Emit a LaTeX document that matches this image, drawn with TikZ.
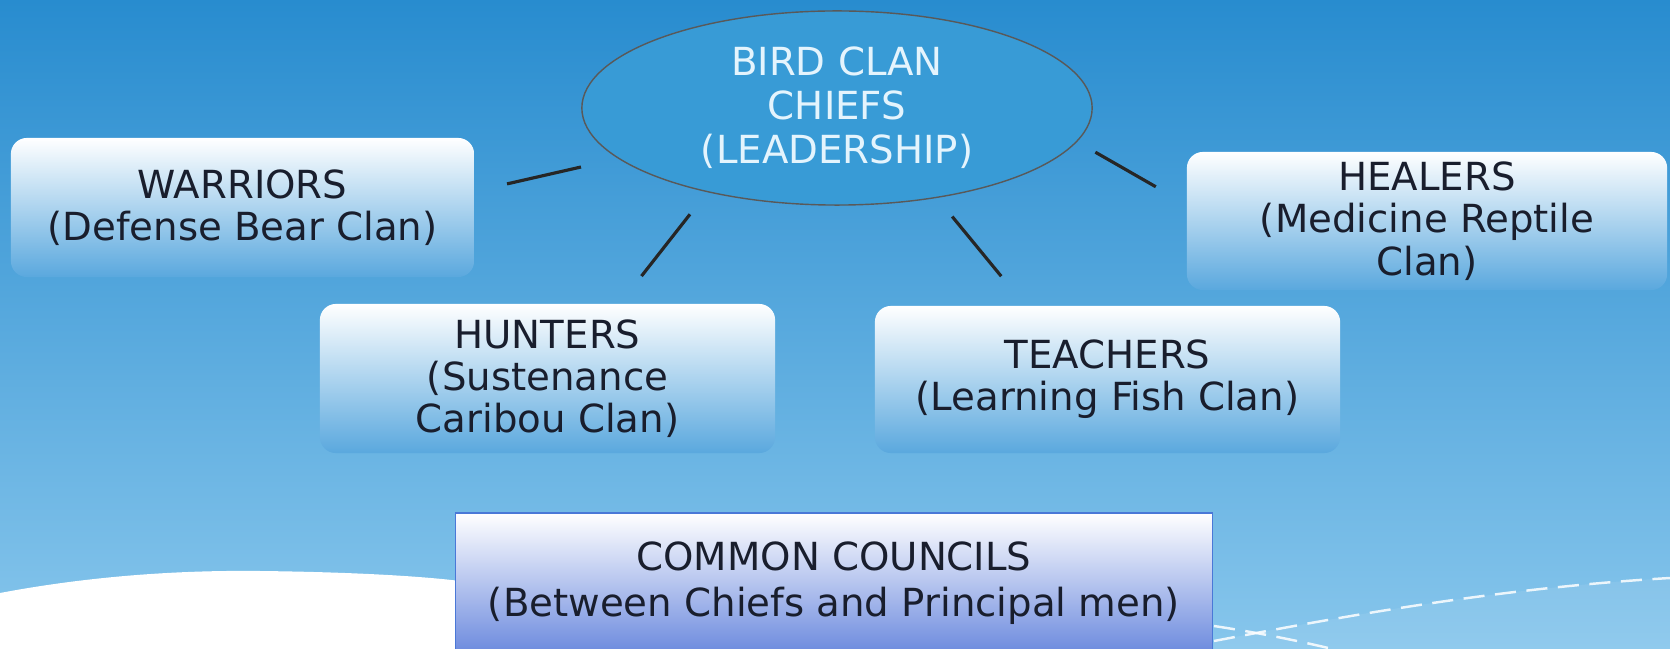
\documentclass[tikz,border=0pt]{standalone}
\usepackage{fontspec}
\setmainfont{DejaVu Sans}
\usepackage{tikz}
\usetikzlibrary{shapes.geometric}

\definecolor{skytop}{RGB}{40,140,207}
\definecolor{skymid}{RGB}{88,172,225}
\definecolor{skybot}{RGB}{135,198,236}
\definecolor{boxblue}{RGB}{90,168,222}
\definecolor{councilblue}{RGB}{108,138,222}
\definecolor{councilrim}{RGB}{74,120,215}
\definecolor{chieffill}{RGB}{56,155,214}
\definecolor{inktext}{RGB}{25,30,45}

\begin{document}
\begin{tikzpicture}[x=0.01cm, y=-0.01cm,
    clan/.style = {rounded corners=0.16cm, top color=white, middle color=boxblue!15!white, bottom color=boxblue,
                   text=inktext, align=center, inner sep=0pt, font=\fontsize{11}{12}\selectfont},
    council/.style = {draw=councilrim, thin, top color=white, middle color=councilblue!25!white, bottom color=councilblue,
                   text=inktext, align=center, inner sep=0pt, font=\fontsize{11}{13}\selectfont},
    chief/.style = {ellipse, draw=black!65, thin, fill=chieffill, text={rgb,255:red,228;green,244;blue,253},
                   align=center, inner sep=0pt, font=\fontsize{11}{12.5}\selectfont},
    tie/.style = {line width=0.9pt, black!85},
    dotline/.style = {white, line width=0.7pt, dash pattern=on 6pt off 3pt, opacity=0.85}]
    \useasboundingbox (0,0) rectangle (1670,649);
    \clip (0,0) rectangle (1670,649);

    % backdrop
    \shade[top color=skytop, middle color=skymid, bottom color=skybot] (0,0) rectangle (1670,649);
    \fill[white] (0,649) -- (0,593) .. controls (90,576) and (180,570) .. (260,571)
        .. controls (350,572) and (420,576) .. (460,581) -- (460,649) -- cycle;
    \fill[white, opacity=0.08] (1214,641) .. controls (1350,615) and (1500,588) .. (1670,578) -- (1670,649) -- (1214,649) -- cycle;
    \draw[dotline] (1214,641) .. controls (1350,615) and (1500,588) .. (1670,578);
    \draw[dotline] (1214,626) .. controls (1260,633) and (1300,641) .. (1345,652);

    \node[chief, minimum width=5.10cm, minimum height=1.94cm] (chiefs) at (837,108) {BIRD CLAN\\CHIEFS\\(LEADERSHIP)};
    \node[clan, minimum width=4.63cm, minimum height=1.39cm] (warriors) at (242.5,207.5) {WARRIORS\\(Defense Bear Clan)};
    \node[clan, minimum width=4.80cm, minimum height=1.38cm] (healers) at (1427,221) {HEALERS\\(Medicine Reptile\\Clan)};
    \node[clan, minimum width=4.55cm, minimum height=1.49cm] (hunters) at (547.5,378.5) {HUNTERS\\(Sustenance\\Caribou Clan)};
    \node[clan, minimum width=4.65cm, minimum height=1.47cm] (teachers) at (1107.5,379.5) {TEACHERS\\(Learning Fish Clan)};
    \node[council, minimum width=7.56cm, minimum height=1.40cm] (council) at (834,583) {COMMON COUNCILS\\(Between Chiefs and Principal men)};

    \draw[tie, shorten <=0.38cm, shorten >=0.33cm] (chiefs.193) -- (warriors.4);
    \draw[tie, shorten <=0.28cm, shorten >=0.345cm] (chiefs.213) -- (hunters.46);
    \draw[tie, shorten <=0.24cm, shorten >=0.375cm] (chiefs.318) -- (teachers.138);
    \draw[tie, shorten <=0.21cm, shorten >=0.35cm] (chiefs.352) -- (healers.176);
\end{tikzpicture}
\end{document}
